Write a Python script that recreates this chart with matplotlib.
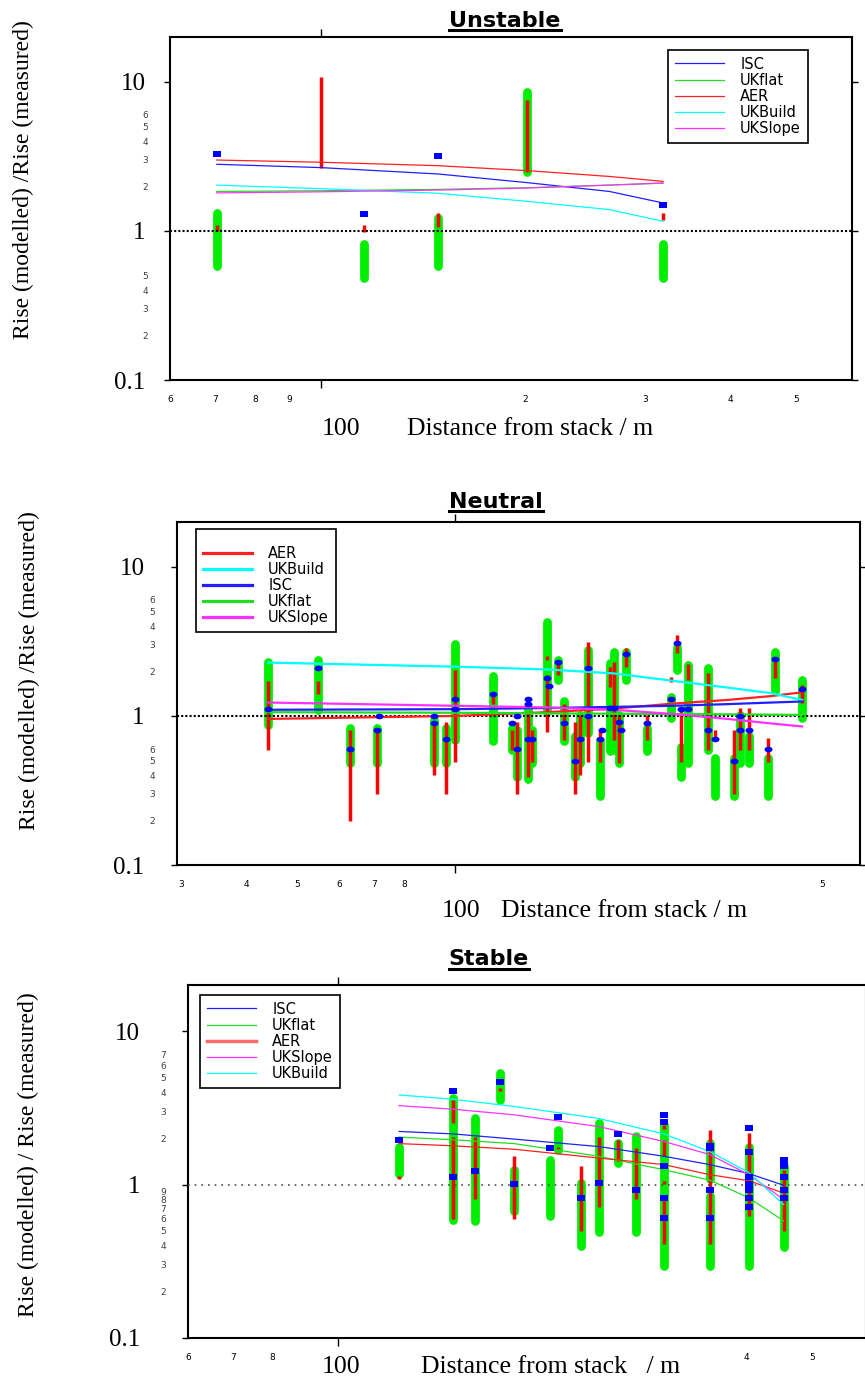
import matplotlib
matplotlib.use('Agg')
import matplotlib.pyplot as plt
from matplotlib.path import Path
from matplotlib.transforms import Affine2D
from matplotlib.lines import Line2D

# ---- Unstable ----
un_green_x = [70.3, 115.8, 148.8, 201, 319]
un_green_lo = [0.58, 0.485, 0.58, 2.5, 0.485]
un_green_hi = [1.32, 0.82, 1.22, 8.6, 0.82]
un_red_x = [70.3, 100, 115.8, 148.8, 201, 319]
un_red_lo = [1.0, 2.63, 0.985, 1.07, 2.47, 1.18]
un_red_hi = [1.1, 10.8, 1.1, 1.31, 7.54, 1.31]
un_blue_x = [70.3, 115.8, 148.8, 319]
un_blue_y = [3.29, 1.30, 3.19, 1.50]
un_line_x = [70.3, 100, 148.8, 201, 266, 319]
un_isc = [2.80, 2.66, 2.41, 2.11, 1.84, 1.54]
un_ukflat = [1.84, 1.86, 1.90, 1.95, 2.03, 2.09]
un_aer = [2.99, 2.89, 2.74, 2.54, 2.32, 2.15]
un_ukbuild = [2.03, 1.92, 1.79, 1.58, 1.39, 1.16]
un_ukslope = [1.80, 1.83, 1.88, 1.94, 2.03, 2.10]

# ---- Neutral ----
ne_green_x = [44.0, 54.7, 63.1, 71.0, 90.9, 96.0, 100, 118.1, 128.2, 131.1, 137.6, 140.2,
              149.2, 157.2, 161.2, 169.2, 172.9, 179.2, 188.7, 197.3, 200.9, 205.4, 211.3,
              231.4, 257.6, 264.5, 268.9, 277.7, 303.3, 311.9, 339.8, 348.7, 363.1, 394.4,
              406.2, 457.7]
ne_green_lo = [0.87, 1.10, 0.48, 0.48, 0.48, 0.48, 0.69, 0.68, 0.59, 0.39, 0.38, 0.48,
               1.07, 1.74, 0.68, 0.39, 0.48, 0.765, 0.29, 0.58, 0.59, 0.48, 1.74,
               0.58, 0.965, 2.04, 0.39, 0.48, 0.59, 0.29, 0.29, 0.48, 0.48, 0.29,
               1.46, 0.965]
ne_green_hi = [2.29, 2.38, 0.83, 0.83, 0.94, 0.83, 3.03, 1.86, 0.83, 0.81, 1.15, 0.81,
               4.30, 2.38, 1.25, 0.73, 1.02, 2.77, 0.68, 2.28, 2.70, 1.02, 2.70,
               0.83, 1.35, 2.91, 0.62, 2.20, 2.09, 0.52, 0.52, 1.02, 0.73, 0.52,
               2.70, 1.74]
ne_red_x = [44.0, 54.7, 63.1, 71.0, 90.9, 96.0, 100, 118.1, 128.2, 131.1, 137.6, 140.2,
            149.2, 149.2, 157.2, 161.2, 169.2, 172.9, 179.2, 188.7, 197.3, 200.9, 205.4,
            211.3, 231.4, 257.6, 264.5, 268.9, 277.7, 303.3, 311.9, 339.8, 348.7, 363.1,
            394.4, 406.2, 457.7]
ne_red_lo = [0.59, 1.40, 0.198, 0.30, 0.40, 0.30, 0.49, 1.20, 0.59, 0.30, 0.39, 0.49,
             0.78, 2.37, 1.88, 0.69, 0.30, 0.40, 0.49, 0.49, 1.57, 0.69, 0.48,
             2.14, 0.69, 1.70, 2.66, 0.49, 1.74, 0.59, 0.69, 0.30, 0.59, 0.59,
             0.49, 1.79, 1.22]
ne_red_hi = [1.72, 1.72, 0.81, 0.81, 0.92, 0.91, 2.04, 1.40, 0.81, 0.91, 1.05, 0.81,
             1.88, 2.53, 2.31, 1.20, 0.91, 1.02, 3.15, 0.81, 2.14, 2.31, 1.02,
             2.86, 1.02, 1.83, 3.50, 1.13, 2.23, 1.93, 0.81, 0.81, 1.13, 1.13,
             0.71, 2.50, 1.61]
ne_blue_x = [44.0, 54.7, 63.1, 71.0, 71.6, 90.9, 90.9, 96.0, 100, 100, 118.1, 128.2,
             131.1, 131.1, 137.6, 137.6, 137.6, 140.2, 149.2, 150.5, 157.2, 161.2, 169.2,
             172.9, 179.2, 179.2, 188.7, 190.0, 197.3, 200.9, 205.4, 207.0, 211.3, 231.4,
             257.6, 264.5, 268.9, 277.7, 303.3, 311.9, 339.8, 348.7, 348.7, 363.1, 394.4,
             406.2, 457.7]
ne_blue_y = [1.11, 2.11, 0.60, 0.81, 1.0, 1.0, 0.90, 0.70, 1.30, 1.11, 1.40, 0.90,
             1.0, 0.60, 1.30, 1.20, 0.70, 0.70, 1.81, 1.60, 2.31, 0.90, 0.50,
             0.70, 2.10, 1.0, 0.70, 0.81, 1.13, 1.13, 0.91, 0.81, 2.62, 0.90,
             1.30, 3.10, 1.11, 1.11, 0.81, 0.70, 0.50, 1.0, 0.81, 0.81, 0.60,
             2.41, 1.51]
ne_line_x = [44.0, 100, 150, 200, 260, 330, 400, 457.7]
ne_aer = [0.955, 1.0, 1.06, 1.12, 1.21, 1.28, 1.36, 1.44]
ne_ukbuild = [2.28, 2.14, 2.05, 1.93, 1.72, 1.55, 1.42, 1.28]
ne_isc = [1.10, 1.11, 1.13, 1.15, 1.17, 1.20, 1.23, 1.25]
ne_ukflat = [1.06, 1.05, 1.04, 1.035, 1.03, 1.025, 1.02, 1.015]
ne_ukslope = [1.23, 1.17, 1.14, 1.10, 1.03, 0.955, 0.89, 0.85]

# ---- Stable ----
st_green_x = [122.9, 147.6, 159.0, 173.0, 181.6, 205.0, 210.9, 228.3, 241.9, 258.2,
              275.0, 302.0, 352.9, 352.9, 403.0, 453.6]
st_green_lo = [1.18, 0.59, 0.58, 3.56, 0.67, 0.62, 1.69, 0.40, 0.49, 1.38,
               0.49, 0.295, 1.08, 0.295, 0.295, 0.39]
st_green_hi = [1.76, 3.66, 2.71, 5.31, 1.25, 1.45, 2.28, 1.03, 2.52, 1.87,
               2.08, 2.45, 1.87, 0.84, 1.76, 1.33]
st_red_x = [122.9, 147.6, 147.6, 159.0, 173.0, 181.6, 210.9, 228.3, 241.9, 258.2,
            275.0, 302.0, 302.0, 302.0, 302.0, 352.9, 403.0, 453.6]
st_red_lo = [1.09, 2.52, 0.60, 0.80, 4.10, 0.60, 1.70, 0.50, 0.71, 1.42,
             0.81, 2.30, 1.53, 1.01, 0.41, 0.41, 0.62, 0.50]
st_red_hi = [1.13, 3.56, 2.04, 2.04, 4.28, 1.53, 1.76, 1.33, 2.04, 1.96,
             1.73, 2.45, 1.96, 1.05, 0.80, 2.26, 2.17, 1.25]
st_blue_x = [122.9, 147.6, 147.6, 159.0, 173.0, 181.6, 205.0, 210.9, 228.3, 241.9,
             258.2, 275.0, 302, 302, 302, 302, 302, 352.9, 352.9, 352.9, 352.9,
             403, 403, 403, 403, 403, 403, 403, 453.6, 453.6, 453.6, 453.6, 453.6]
st_blue_y = [1.94, 4.08, 1.12, 1.22, 4.69, 1.01, 1.73, 2.75, 0.82, 1.02,
             2.14, 0.92, 2.85, 2.54, 1.33, 0.82, 0.61, 1.79, 1.73, 0.92, 0.61,
             2.33, 1.63, 1.12, 1.01, 0.92, 0.82, 0.71, 1.45, 1.33, 1.12, 0.92, 0.82]
st_line_x = [122.9, 147.6, 181.6, 241.9, 302.0, 352.9, 403.0, 453.6]
st_isc = [2.22, 2.14, 1.98, 1.77, 1.53, 1.35, 1.18, 0.99]
st_ukflat = [2.04, 1.96, 1.85, 1.53, 1.25, 1.07, 0.82, 0.58]
st_aer = [1.85, 1.79, 1.70, 1.49, 1.35, 1.16, 1.06, 0.88]
st_ukslope = [3.27, 3.10, 2.85, 2.39, 1.91, 1.57, 1.16, 0.80]
st_ukbuild = [3.84, 3.60, 3.23, 2.70, 2.14, 1.64, 1.20, 0.74]

GREEN = '#00ee00'
RED = '#ff0000'
BLUE = '#0000ff'
COLORS = {'ISC': '#2020ff', 'UKflat': '#22dd22', 'AER': '#ff2020',
          'UKBuild': '#00ffff', 'UKSlope': '#ff30ff'}

W, H = 865, 1383
SERIF = 'Liberation Serif'


def fx(px):
    return px / W


def fy(py):
    return 1 - py / H


def box_marker(aspect):
    # flat rectangle / ellipse markers as in the scanned figure
    return Path.unit_rectangle().transformed(Affine2D().translate(-0.5, -0.5).scale(1, aspect))


def ellipse_marker(aspect):
    return Path.unit_circle().transformed(Affine2D().scale(1, aspect))


def setup_axes(ax, xlim, xminor, xminor_lab, yminor, yminor_lab, major_pad):
    ax.set_xscale('log')
    ax.set_yscale('log')
    ax.set_xlim(*xlim)
    ax.set_ylim(0.1, 20)
    ax.set_xticks([100], [''])
    ax.set_xticks(xminor, xminor_lab, minor=True)
    ax.set_yticks([0.1, 1, 10], ['0.1', '1', '10'], family=SERIF, fontsize=18)
    ax.set_yticks(yminor, yminor_lab, minor=True, fontsize=6.5, color='0.25')
    ax.tick_params(axis='x', which='major', direction='out', top=True, length=6, width=1)
    ax.tick_params(axis='x', which='minor', length=0, pad=11, labelsize=6.5)
    ax.tick_params(axis='y', which='major', direction='out', right=True, length=4.5,
                   width=1, pad=major_pad)
    ax.tick_params(axis='y', which='minor', length=0, pad=16)
    for s in ax.spines.values():
        s.set_linewidth(1.5)


def draw_panel(ax, gx, glo, ghi, rx, rlo, rhi, bx, by, marker, ms, line_x, lines, lw, dot):
    ax.vlines(gx, glo, ghi, colors=GREEN, linewidths=6.3, capstyle='round', zorder=2)
    ax.vlines(rx, rlo, rhi, colors=RED, linewidths=2.5, zorder=3)
    ax.axhline(1, color=dot[0], lw=dot[1], ls=(0, dot[2]), zorder=3.5)
    for name, ys in lines:
        ax.plot(line_x, ys, color=COLORS[name], lw=lw, label=name, zorder=4)
    ax.plot(bx, by, ls='none', marker=marker, ms=ms, color=BLUE, mec=BLUE, mew=0, zorder=5)


def add_legend(ax, fig, x, y, title=None):
    leg = ax.legend(loc='upper left', bbox_to_anchor=(fx(x), fy(y)),
                    bbox_transform=fig.transFigure, fancybox=False, edgecolor='k',
                    framealpha=1, fontsize=10.5, handlelength=3.4, handletextpad=1.1,
                    labelspacing=0.08, borderpad=0.45, borderaxespad=0,
                    title=title, title_fontsize=6)
    leg.get_frame().set_linewidth(1.2)
    return leg


fig = plt.figure(figsize=(W / 100, H / 100), dpi=100)

# Unstable panel
ax1 = fig.add_axes([fx(170), fy(380), (852 - 170) / W, (380 - 37) / H])
setup_axes(ax1, (60, 605), [60, 70, 80, 90, 200, 300, 400, 500],
           ['6', '7', '8', '9', '2', '3', '4', '5'],
           [0.2, 0.3, 0.4, 0.5, 2, 3, 4, 5, 6], ['2', '3', '4', '5', '2', '3', '4', '5', '6'], 13)
draw_panel(ax1, un_green_x, un_green_lo, un_green_hi, un_red_x, un_red_lo, un_red_hi,
           un_blue_x, un_blue_y, box_marker(0.65), 5.8, un_line_x,
           [('ISC', un_isc), ('UKflat', un_ukflat), ('AER', un_aer),
            ('UKBuild', un_ukbuild), ('UKSlope', un_ukslope)], 0.9, ('k', 1.5, (1, 1)))
add_legend(ax1, fig, 668, 50)

# Neutral panel
ax2 = fig.add_axes([fx(177), fy(865), (860 - 177) / W, (865 - 522) / H])
setup_axes(ax2, (29.5, 590), [30, 40, 50, 60, 70, 80, 500],
           ['3', '4', '5', '6', '7', '8', '5'],
           [0.2, 0.3, 0.4, 0.5, 0.6, 2, 3, 4, 5, 6],
           ['2', '3', '4', '5', '6', '2', '3', '4', '5', '6'], 19)
draw_panel(ax2, ne_green_x, ne_green_lo, ne_green_hi, ne_red_x, ne_red_lo, ne_red_hi,
           ne_blue_x, ne_blue_y, ellipse_marker(0.7), 5.8, ne_line_x,
           [('AER', ne_aer), ('UKBuild', ne_ukbuild), ('ISC', ne_isc),
            ('UKflat', ne_ukflat), ('UKSlope', ne_ukslope)], 1.6, ('k', 1.5, (1, 1)))
leg2 = add_legend(ax2, fig, 196, 529, title=' ')
for ln in leg2.get_lines():
    ln.set_linewidth(2.3)

# Stable panel
ax3 = fig.add_axes([fx(188), fy(1338), (866 - 188) / W, (1338 - 985) / H])
setup_axes(ax3, (60, 600), [60, 70, 80, 400, 500], ['6', '7', '8', '4', '5'],
           [0.2, 0.3, 0.4, 0.5, 0.6, 0.7, 0.8, 0.9, 2, 3, 4, 5, 6, 7],
           ['2', '3', '4', '5', '6', '7', '8', '9', '2', '3', '4', '5', '6', '7'], 30)
draw_panel(ax3, st_green_x, st_green_lo, st_green_hi, st_red_x, st_red_lo, st_red_hi,
           st_blue_x, st_blue_y, box_marker(0.7), 5.8, st_line_x,
           [('ISC', st_isc), ('UKflat', st_ukflat), ('AER', st_aer),
            ('UKSlope', st_ukslope), ('UKBuild', st_ukbuild)], 0.9, ('0.3', 1.2, (1, 3)))
leg3 = add_legend(ax3, fig, 200, 995)
leg3.get_lines()[2].set_linewidth(2.5)
leg3.get_lines()[2].set_color('#ff6a6a')

# titles with underline
for name, xc, base, uy in [('Unstable', 505, 26.7, 29.5), ('Neutral', 496, 508.3, 511),
                           ('Stable', 489, 965, 969)]:
    t = fig.text(fx(xc), fy(base), name, ha='center', va='baseline',
                 fontsize=16, fontweight='bold', family='DejaVu Sans')
    fig.canvas.draw()
    bb = t.get_window_extent()
    fig.add_artist(Line2D([bb.x0 / W, bb.x1 / W], [fy(uy), fy(uy)],
                          transform=fig.transFigure, color='k', lw=2.2))

# y labels
for xc, yc, txt in [(23, 180, 'Rise (modelled) /Rise (measured)'),
                    (29, 671, 'Rise (modelled) /Rise (measured)'),
                    (28, 1155, 'Rise (modelled) / Rise (measured)')]:
    fig.text(fx(xc), fy(yc), txt, rotation=90, ha='center', va='center',
             family=SERIF, fontsize=17)

# x labels
for x100, xdist, yc, txt in [(322, 407, 429, 'Distance from stack / m'),
                             (442, 501, 911, 'Distance from stack / m'),
                             (322, 421, 1367, 'Distance from stack   / m')]:
    fig.text(fx(x100), fy(yc), '100', ha='left', va='center', family=SERIF, fontsize=18.5)
    fig.text(fx(xdist), fy(yc), txt, ha='left', va='center', family=SERIF, fontsize=18.5)

fig.savefig('out.png', dpi=100)
